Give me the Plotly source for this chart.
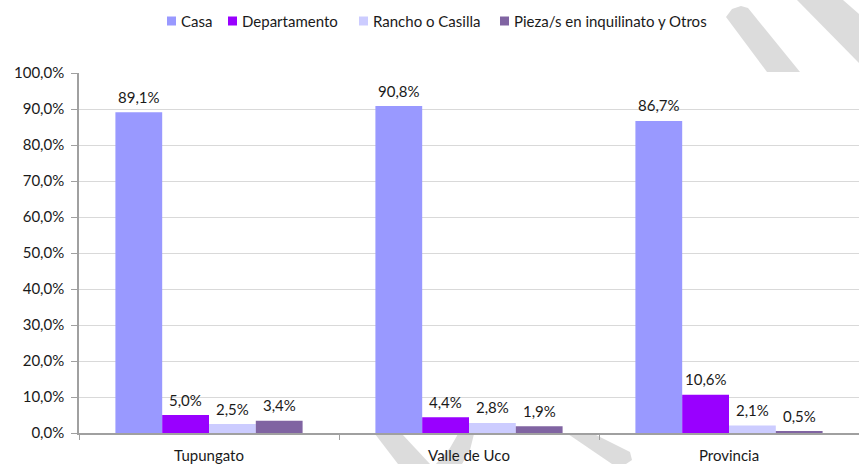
import plotly.graph_objects as go

# Housing type shares by area (percent of households)
categories = ["Tupungato", "Valle de Uco", "Provincia"]
series_names = ["Casa", "Departamento", "Rancho o Casilla", "Pieza/s en inquilinato y Otros"]
casa = [89.1, 90.8, 86.7]
departamento = [5.0, 4.4, 10.6]
rancho = [2.5, 2.8, 2.1]
pieza = [3.4, 1.9, 0.5]

y_tick_values = [0, 10, 20, 30, 40, 50, 60, 70, 80, 90, 100]
y_tick_labels = ["0,0%", "10,0%", "20,0%", "30,0%", "40,0%", "50,0%",
                 "60,0%", "70,0%", "80,0%", "90,0%", "100,0%"]

colors = ["#9999FF", "#9900FF", "#CCCCFF", "#8064A2"]
FONT = "Lato, 'Open Sans', sans-serif"
FSIZE = 15
TEXT_COLOR = "#1a1a1a"

W, H = 859, 464
M_L, M_R, M_T, M_B = 79, 0, 73, 31
PLOT_W = W - M_L - M_R
PLOT_H = H - M_T - M_B
BARGAP = 0.28


def px_x(px):
    return (px - M_L) / PLOT_W


def px_y(py):
    return (H - M_B - py) / PLOT_H


def pct(v):
    return f"{v:.1f}".replace(".", ",") + "%"


fig = go.Figure()
all_series = [casa, departamento, rancho, pieza]
bar_px = PLOT_W / len(categories) * (1 - BARGAP) / len(all_series)
annotations = []
for i, (name, values, color) in enumerate(zip(series_names, all_series, colors)):
    fig.add_trace(go.Bar(
        x=categories,
        y=values,
        name=name,
        marker=dict(color=color, line=dict(width=0)),
        showlegend=False,
    ))
    # value labels above each bar
    for cat, v in zip(categories, values):
        annotations.append(dict(
            x=cat, y=v, xref="x", yref="y", text=pct(v), showarrow=False,
            xanchor="center", yanchor="middle",
            xshift=(i - (len(all_series) - 1) / 2) * bar_px, yshift=15.5,
            font=dict(family=FONT, size=FSIZE, color=TEXT_COLOR),
        ))

shapes = []

# Legend row drawn as small squares with labels
legend_x = [167, 228, 359, 500]
for name, color, lx in zip(series_names, colors, legend_x):
    shapes.append(dict(type="rect", xref="paper", yref="paper",
                       x0=px_x(lx), x1=px_x(lx + 9), y0=px_y(25.5), y1=px_y(16.5),
                       fillcolor=color, line=dict(width=0), layer="above"))
    annotations.append(dict(xref="paper", yref="paper", x=px_x(lx + 12), y=px_y(21),
                            xanchor="left", yanchor="middle", showarrow=False,
                            text=name, font=dict(family=FONT, size=FSIZE, color=TEXT_COLOR)))

# Faint diagonal draft watermark strokes outside the plotting area
watermark = [
    [(726, 17), (732, 9), (741, 6), (748, 8), (800, 72), (767, 72)],
    [(797, 0), (843, 0), (859, 14), (859, 63)],
    [(375, 434), (402, 434), (430, 464), (398, 464)],
    [(458, 434), (474, 434), (470, 450), (462, 464), (436, 464), (450, 448)],
    [(568, 434), (594, 434), (630, 452), (632, 460), (626, 464), (612, 464)],
]
for poly in watermark:
    path = "M " + " L ".join(f"{px_x(x):.5f},{px_y(y):.5f}" for x, y in poly) + " Z"
    shapes.append(dict(type="path", xref="paper", yref="paper", path=path,
                       fillcolor="#dcdcdc", line=dict(width=0), layer="below"))

fig.update_layout(
    width=W, height=H, autosize=False,
    margin=dict(l=M_L, r=M_R, t=M_T, b=M_B, pad=0),
    paper_bgcolor="white", plot_bgcolor="white",
    barmode="group", bargap=BARGAP, bargroupgap=0,
    font=dict(family=FONT, size=FSIZE, color=TEXT_COLOR),
    shapes=shapes, annotations=annotations,
    xaxis=dict(
        type="category", showline=True, linecolor="#a0a0a0", linewidth=1.5,
        ticks="outside", tickson="boundaries", ticklen=5, tickcolor="#a0a0a0",
        tickfont=dict(family=FONT, size=FSIZE, color=TEXT_COLOR),
        showgrid=False, zeroline=False, ticklabelstandoff=8,
    ),
    yaxis=dict(
        range=[0, 100], tickvals=y_tick_values, ticktext=y_tick_labels,
        showline=True, linecolor="#a0a0a0", linewidth=1.5,
        ticks="outside", ticklen=6, tickcolor="#a0a0a0",
        showgrid=True, gridcolor="#d9d9d9", gridwidth=1, zeroline=False,
        tickfont=dict(family=FONT, size=FSIZE, color=TEXT_COLOR),
        ticklabelstandoff=4,
    ),
)

fig.write_html("out.html")
